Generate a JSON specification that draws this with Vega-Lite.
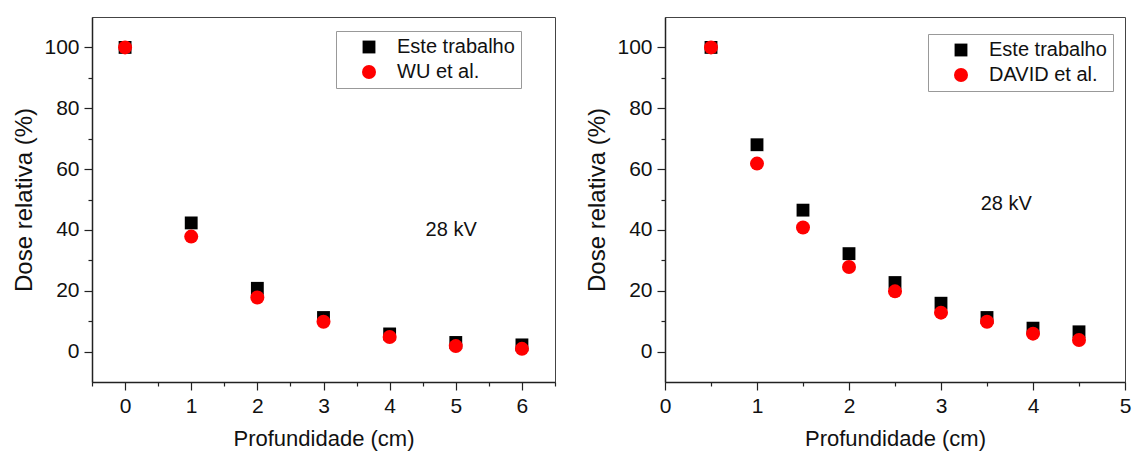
{
  "$schema": "https://vega.github.io/schema/vega-lite/v6.json",
  "padding": {"left": 12, "top": 16, "right": 1, "bottom": 3},
  "spacing": 28,
  "config": {
    "font": "Liberation Sans",
    "view": {"stroke": "#444", "strokeWidth": 1},
    "axis": {
      "grid": false,
      "tickCount": 100,
      "domainColor": "#222",
      "domainWidth": 1.5,
      "tickColor": "#222",
      "tickWidth": 1.2,
      "labelOverlap": false,
      "labelFlush": false,
      "labelFont": "Liberation Sans",
      "labelFontSize": 21,
      "labelColor": "#111",
      "labelPadding": 5,
      "titleFont": "Liberation Sans",
      "titleFontWeight": "normal",
      "titleColor": "#111"
    },
    "axisX": {"titleFontSize": 22, "titlePadding": 12},
    "axisY": {"titleFontSize": 24, "titlePadding": 7},
    "legend": {
      "orient": "none",
      "title": null,
      "fillColor": "white",
      "strokeColor": "#999",
      "padding": 6,
      "symbolOffset": 17,
      "labelOffset": 18,
      "labelFont": "Liberation Sans",
      "labelFontSize": 20,
      "labelColor": "#111",
      "rowPadding": 5,
      "symbolStrokeWidth": 0
    }
  },
  "datasets": {
    "left": [
      {"x": 0, "y": 100, "serie": "Este trabalho"},
      {"x": 1, "y": 42.3, "serie": "Este trabalho"},
      {"x": 2, "y": 20.8, "serie": "Este trabalho"},
      {"x": 3, "y": 11.2, "serie": "Este trabalho"},
      {"x": 4, "y": 5.8, "serie": "Este trabalho"},
      {"x": 5, "y": 3, "serie": "Este trabalho"},
      {"x": 6, "y": 2.2, "serie": "Este trabalho"},
      {"x": 0, "y": 100, "serie": "WU et al."},
      {"x": 1, "y": 37.8, "serie": "WU et al."},
      {"x": 2, "y": 17.8, "serie": "WU et al."},
      {"x": 3, "y": 9.8, "serie": "WU et al."},
      {"x": 4, "y": 4.8, "serie": "WU et al."},
      {"x": 5, "y": 1.8, "serie": "WU et al."},
      {"x": 6, "y": 0.9, "serie": "WU et al."}
    ],
    "right": [
      {"x": 0.5, "y": 100, "serie": "Este trabalho"},
      {"x": 1, "y": 68, "serie": "Este trabalho"},
      {"x": 1.5, "y": 46.5, "serie": "Este trabalho"},
      {"x": 2, "y": 32.2, "serie": "Este trabalho"},
      {"x": 2.5, "y": 22.7, "serie": "Este trabalho"},
      {"x": 3, "y": 15.9, "serie": "Este trabalho"},
      {"x": 3.5, "y": 11.2, "serie": "Este trabalho"},
      {"x": 4, "y": 7.7, "serie": "Este trabalho"},
      {"x": 4.5, "y": 6.5, "serie": "Este trabalho"},
      {"x": 0.5, "y": 100, "serie": "DAVID et al."},
      {"x": 1, "y": 61.8, "serie": "DAVID et al."},
      {"x": 1.5, "y": 40.8, "serie": "DAVID et al."},
      {"x": 2, "y": 27.8, "serie": "DAVID et al."},
      {"x": 2.5, "y": 19.8, "serie": "DAVID et al."},
      {"x": 3, "y": 12.8, "serie": "DAVID et al."},
      {"x": 3.5, "y": 9.8, "serie": "DAVID et al."},
      {"x": 4, "y": 5.9, "serie": "DAVID et al."},
      {"x": 4.5, "y": 3.8, "serie": "DAVID et al."}
    ],
    "leftLabel": [{"x": 4.93, "y": 40, "label": "28 kV"}],
    "rightLabel": [{"x": 3.71, "y": 48.5, "label": "28 kV"}]
  },
  "resolve": {"scale": {"color": "independent", "shape": "independent", "size": "independent"}},
  "hconcat": [
    {
      "width": 463,
      "height": 365,
      "layer": [
        {
          "data": {"name": "left"},
          "mark": {"type": "point", "filled": true, "opacity": 1},
          "encoding": {
            "x": {"field": "x", "type": "quantitative", "scale": {"domain": [-0.5, 6.5], "nice": false},
                  "axis": {"title": "Profundidade (cm)", "values": [-0.5, 0, 0.5, 1, 1.5, 2, 2.5, 3, 3.5, 4, 4.5, 5, 5.5, 6, 6.5],
                           "tickSize": {"condition": {"test": "abs(datum.value - round(datum.value)) < 0.01", "value": 8}, "value": 4},
                           "labelExpr": "abs(datum.value - round(datum.value)) < 0.01 ? format(datum.value, 'd') : ''"}},
            "y": {"field": "y", "type": "quantitative", "scale": {"domain": [-10, 110], "nice": false},
                  "axis": {"title": "Dose relativa (%)", "values": [0, 10, 20, 30, 40, 50, 60, 70, 80, 90, 100],
                           "tickSize": {"condition": {"test": "datum.value % 20 === 0", "value": 8}, "value": 4},
                           "labelExpr": "datum.value % 20 === 0 ? format(datum.value, 'd') : ''"}},
            "color": {"field": "serie", "type": "nominal", "scale": {"domain": ["Este trabalho", "WU et al."], "range": ["#000000", "#ff0000"]},
                      "legend": {"legendX": 244, "legendY": 14}},
            "shape": {"field": "serie", "type": "nominal", "scale": {"domain": ["Este trabalho", "WU et al."], "range": ["square", "circle"]}},
            "size": {"field": "serie", "type": "nominal", "scale": {"domain": ["Este trabalho", "WU et al."], "range": [165, 196]}}
          }
        },
        {
          "data": {"name": "leftLabel"},
          "mark": {"type": "text", "fontSize": 20, "font": "Liberation Sans", "color": "#111"},
          "encoding": {
            "x": {"field": "x", "type": "quantitative"},
            "y": {"field": "y", "type": "quantitative"},
            "text": {"field": "label"}
          }
        }
      ]
    },
    {
      "width": 460,
      "height": 365,
      "layer": [
        {
          "data": {"name": "right"},
          "mark": {"type": "point", "filled": true, "opacity": 1},
          "encoding": {
            "x": {"field": "x", "type": "quantitative", "scale": {"domain": [0, 5], "nice": false},
                  "axis": {"title": "Profundidade (cm)", "values": [0, 0.5, 1, 1.5, 2, 2.5, 3, 3.5, 4, 4.5, 5],
                           "tickSize": {"condition": {"test": "abs(datum.value - round(datum.value)) < 0.01", "value": 8}, "value": 4},
                           "labelExpr": "abs(datum.value - round(datum.value)) < 0.01 ? format(datum.value, 'd') : ''"}},
            "y": {"field": "y", "type": "quantitative", "scale": {"domain": [-10, 110], "nice": false},
                  "axis": {"title": "Dose relativa (%)", "values": [0, 10, 20, 30, 40, 50, 60, 70, 80, 90, 100],
                           "tickSize": {"condition": {"test": "datum.value % 20 === 0", "value": 8}, "value": 4},
                           "labelExpr": "datum.value % 20 === 0 ? format(datum.value, 'd') : ''"}},
            "color": {"field": "serie", "type": "nominal", "scale": {"domain": ["Este trabalho", "DAVID et al."], "range": ["#000000", "#ff0000"]},
                      "legend": {"legendX": 263, "legendY": 17}},
            "shape": {"field": "serie", "type": "nominal", "scale": {"domain": ["Este trabalho", "DAVID et al."], "range": ["square", "circle"]}},
            "size": {"field": "serie", "type": "nominal", "scale": {"domain": ["Este trabalho", "DAVID et al."], "range": [165, 196]}}
          }
        },
        {
          "data": {"name": "rightLabel"},
          "mark": {"type": "text", "fontSize": 20, "font": "Liberation Sans", "color": "#111"},
          "encoding": {
            "x": {"field": "x", "type": "quantitative"},
            "y": {"field": "y", "type": "quantitative"},
            "text": {"field": "label"}
          }
        }
      ]
    }
  ]
}
